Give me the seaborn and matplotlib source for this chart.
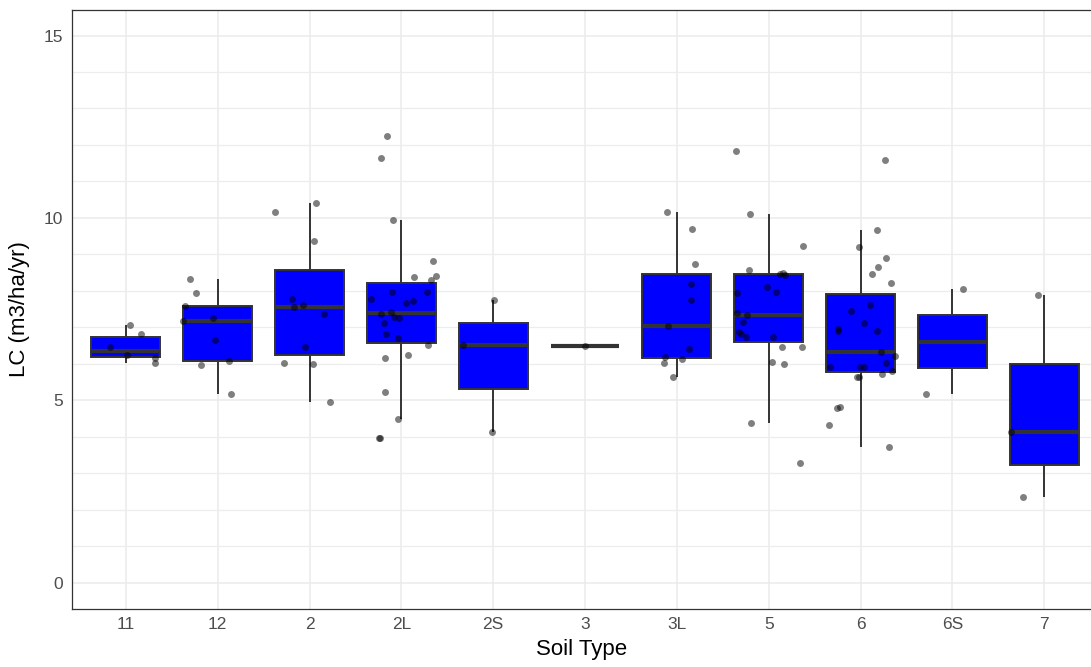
import numpy as np
import pandas as pd
import matplotlib
matplotlib.use("Agg")
import matplotlib.pyplot as plt
from matplotlib.ticker import MultipleLocator
import seaborn as sns

# soil types in axis order
soil_types = ["11", "12", "2", "2L", "2S", "3", "3L", "5", "6", "6S", "7"]

# LC values (m3/ha/yr), one list per soil type
lc_11 = [7.06, 6.83, 6.47, 6.25, 6.17, 6.03]
lc_12 = [8.33, 7.93, 7.59, 7.25, 7.18, 6.64, 6.07, 5.97, 5.17]
lc_2 = [10.42, 10.17, 9.37, 7.77, 7.60, 7.55, 7.36, 6.46, 6.01, 6.00, 4.95]
lc_2L = [12.25, 11.65, 9.93, 8.81, 8.40, 8.38, 8.29, 7.98, 7.96, 7.78, 7.71,
         7.67, 7.42, 7.37, 7.28, 7.25, 7.13, 6.81, 6.72, 6.52, 6.24, 6.15,
         5.22, 4.48, 3.98, 3.98]
lc_2S = [7.74, 6.51, 4.13]
lc_3 = [6.49]
lc_3L = [10.17, 9.70, 8.73, 8.19, 7.75, 7.05, 6.42, 6.19, 6.12, 6.02, 5.65]
lc_5 = [11.83, 10.12, 9.23, 8.56, 8.48, 8.47, 8.43, 8.12, 7.96, 7.94, 7.40,
        7.35, 7.14, 6.86, 6.82, 6.73, 6.73, 6.47, 6.45, 6.04, 5.99, 4.39, 3.29]
lc_6 = [11.60, 9.66, 9.20, 8.89, 8.66, 8.46, 8.22, 7.61, 7.46, 7.11, 6.96,
        6.90, 6.90, 6.33, 6.22, 6.03, 5.92, 5.92, 5.92, 5.81, 5.73, 5.65,
        5.65, 4.82, 4.78, 4.33, 3.73]
lc_6S = [8.06, 5.16]
lc_7 = [7.89, 4.12, 2.35]

groups = [lc_11, lc_12, lc_2, lc_2L, lc_2S, lc_3, lc_3L, lc_5, lc_6, lc_6S, lc_7]
df = pd.DataFrame({
    "soil": np.repeat(soil_types, [len(g) for g in groups]),
    "lc": np.concatenate(groups),
})

sns.set_style("white")
plt.rcParams["font.family"] = ["Liberation Sans", "DejaVu Sans"]

fig = plt.figure(figsize=(10.91, 6.67), dpi=100)
ax = fig.add_axes([0.0657, 0.087, 0.9343, 0.898])

edge = "#333333"
sns.boxplot(data=df, x="soil", y="lc", order=soil_types, ax=ax,
            color="#0000FF", saturation=1, width=0.75, linecolor=edge,
            linewidth=1.4, showfliers=False, showcaps=False,
            medianprops={"color": edge, "linewidth": 3})

np.random.seed(3)
sns.stripplot(data=df, x="soil", y="lc", order=soil_types, ax=ax,
              color="black", alpha=0.5, size=5, jitter=0.4,
              linewidth=0, zorder=5)

# grid like ggplot theme_bw
ax.set_axisbelow(True)
ax.yaxis.set_major_locator(MultipleLocator(5))
ax.yaxis.set_minor_locator(MultipleLocator(1))
ax.grid(True, which="major", color="#EBEBEB", linewidth=1.1)
ax.grid(True, which="minor", axis="y", color="#EDEDED", linewidth=0.9)

ax.set_xlim(-0.59, 10.51)
ax.set_ylim(-0.72, 15.7)

for side in ["left", "bottom", "top"]:
    ax.spines[side].set_color(edge)
    ax.spines[side].set_linewidth(0.9)
ax.spines["right"].set_visible(False)

ax.tick_params(axis="both", which="major", length=3.5, width=0.9,
               color=edge, labelcolor="#4D4D4D", labelsize=12.5, pad=2.5)
ax.tick_params(axis="y", which="minor", length=0)

ax.set_xlabel("Soil Type", fontsize=16, color="black", labelpad=5)
ax.set_ylabel("LC (m3/ha/yr)", fontsize=16, color="black", labelpad=10)

fig.savefig("out.png", dpi=100)
